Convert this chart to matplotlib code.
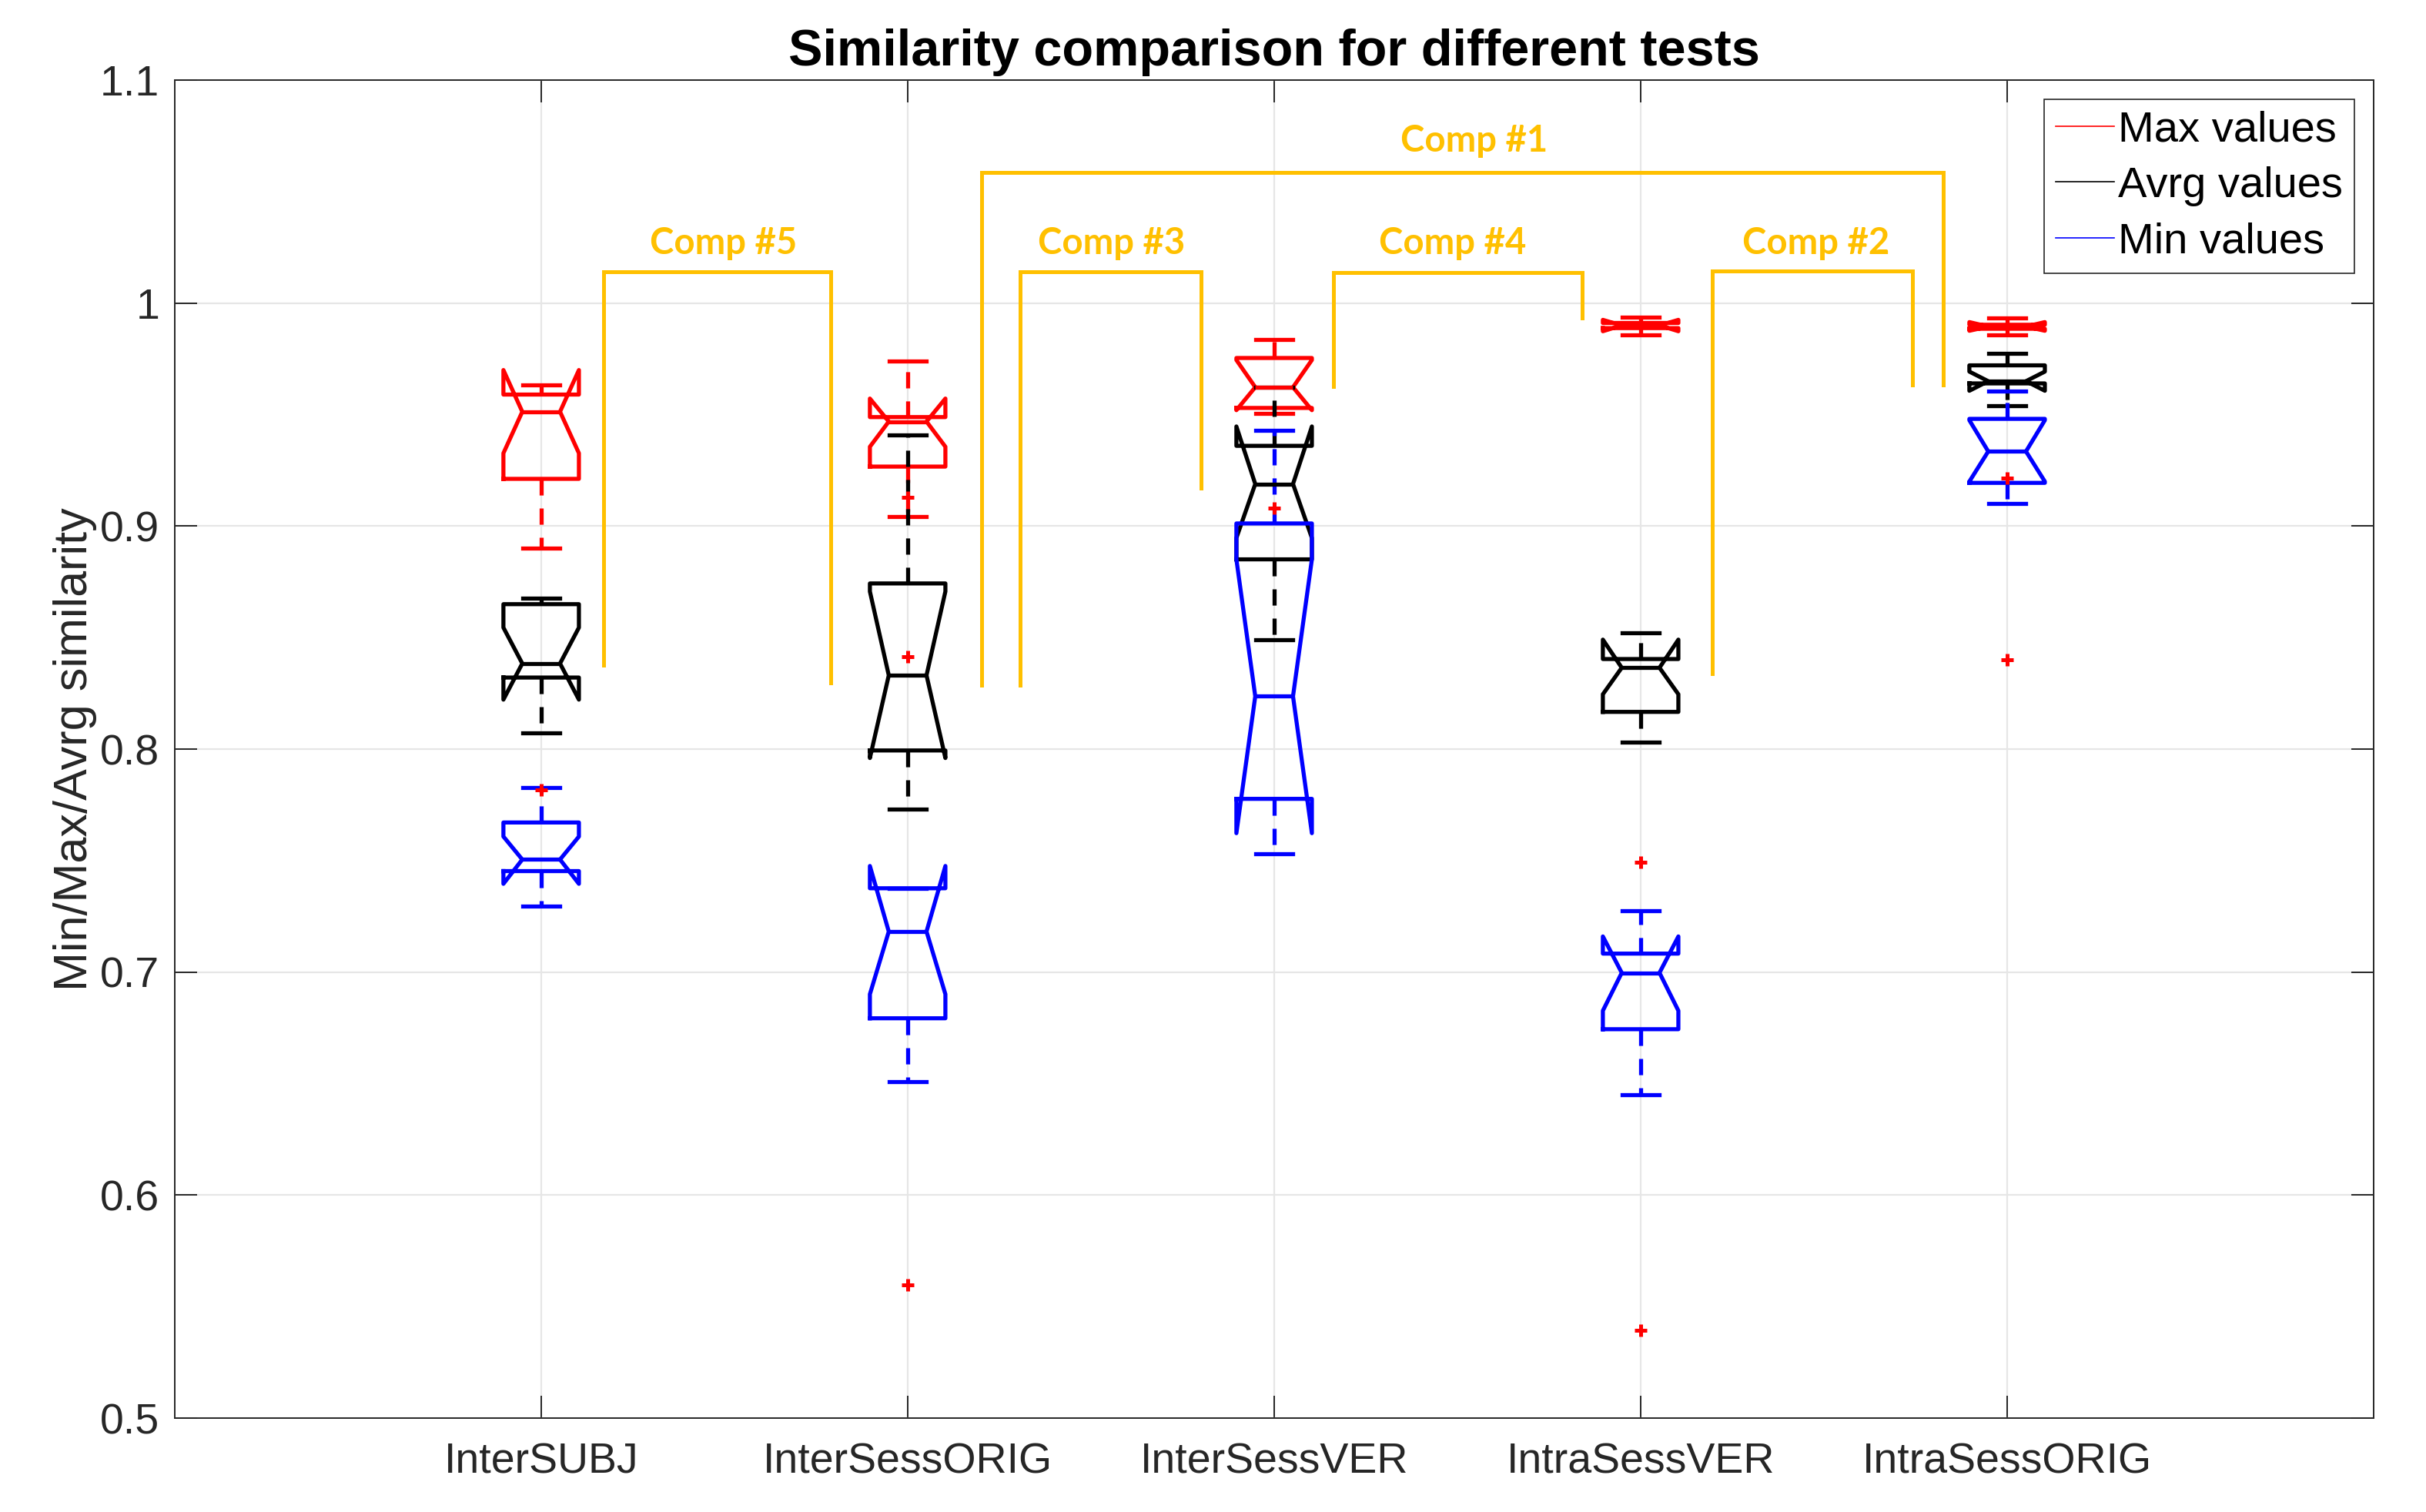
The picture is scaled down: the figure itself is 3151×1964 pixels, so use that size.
import matplotlib
matplotlib.use('Agg')
import matplotlib.pyplot as plt
from matplotlib.lines import Line2D

plt.rcParams['font.family'] = ['Liberation Sans', 'DejaVu Sans']

tests = ['InterSUBJ', 'InterSessORIG', 'InterSessVER', 'IntraSessVER', 'IntraSessORIG']
positions = [1, 2, 3, 4, 5]

# box statistics
max_vals = dict(
    whislo=[0.8903, 0.9042, 0.9505, 0.9857, 0.9859],
    q1=[0.9212, 0.9267, 0.9530, 0.9888, 0.9885],
    cilo=[0.9327, 0.9356, 0.9520, 0.9874, 0.9876],
    med=[0.9513, 0.9469, 0.9623, 0.9900, 0.9895],
    cihi=[0.9700, 0.9572, 0.9745, 0.9925, 0.9915],
    q3=[0.9590, 0.9489, 0.9754, 0.9911, 0.9903],
    whishi=[0.9634, 0.9741, 0.9837, 0.9938, 0.9934],
)
max_fliers = [[0.7816], [], [0.9082], [0.7491, 0.5395], [0.9215, 0.8400]]

avrg_vals = dict(
    whislo=[0.8073, 0.7731, 0.8491, 0.8032, 0.9539],
    q1=[0.8321, 0.7994, 0.8851, 0.8167, 0.9640],
    cilo=[0.8222, 0.7960, 0.8947, 0.8246, 0.9607],
    med=[0.8384, 0.8331, 0.9189, 0.8365, 0.9650],
    cihi=[0.8545, 0.8707, 0.9447, 0.8491, 0.9693],
    q3=[0.8650, 0.8743, 0.9360, 0.8404, 0.9721],
    whishi=[0.8677, 0.9408, 0.9623, 0.8521, 0.9775],
)
avrg_fliers = [[], [], [], [], []]

min_vals = dict(
    whislo=[0.7295, 0.6509, 0.7532, 0.6451, 0.9102],
    q1=[0.7453, 0.6793, 0.7777, 0.6744, 0.9194],
    cilo=[0.7396, 0.6901, 0.7623, 0.6827, 0.9200],
    med=[0.7505, 0.7182, 0.8237, 0.6997, 0.9335],
    cihi=[0.7608, 0.7476, 0.8851, 0.7160, 0.9475],
    q3=[0.7671, 0.7376, 0.9012, 0.7083, 0.9481],
    whishi=[0.7826, 0.7376, 0.9430, 0.7275, 0.9607],
)
min_fliers = [[], [0.9130, 0.8414, 0.5596], [], [], []]

# comparison brackets: left x, right x, top y, left leg bottom, right leg bottom
comp_names = ['Comp #5', 'Comp #3', 'Comp #4', 'Comp #2', 'Comp #1']
comp_left = [1.170, 2.307, 3.162, 4.195, 2.201]
comp_right = [1.790, 2.800, 3.840, 4.741, 4.826]
comp_top = [1.014, 1.014, 1.0138, 1.0145, 1.0585]
comp_left_bot = [0.8376, 0.8286, 0.9628, 0.8340, 0.8286]
comp_right_bot = [0.8297, 0.9169, 0.9934, 0.9634, 0.9634]
comp_label_x = [1.498, 2.557, 3.487, 4.479, 3.546]
comp_label_y = [1.022, 1.022, 1.022, 1.022, 1.068]


def make_stats(vals, fliers):
    stats = []
    for i in range(len(tests)):
        s = {k: vals[k][i] for k in vals}
        s['fliers'] = fliers[i]
        stats.append(s)
    return stats


fig = plt.figure(figsize=(15.755, 9.82), dpi=200)
ax = fig.add_axes([0.0720, 0.0621, 0.9064, 0.8849])

for vals, fl, col in [(max_vals, max_fliers, 'red'),
                      (avrg_vals, avrg_fliers, 'black'),
                      (min_vals, min_fliers, 'blue')]:
    line = dict(color=col, lw=1.9)
    ax.bxp(make_stats(vals, fl), positions=positions, widths=0.206,
           capwidths=0.1, shownotches=True,
           boxprops=line, medianprops=line, capprops=line,
           whiskerprops=dict(color=col, lw=1.9, linestyle=(0, (4, 3.2))),
           flierprops=dict(marker='+', markeredgecolor='red', markersize=6,
                           markeredgewidth=1.8, linestyle='none', zorder=5),
           manage_ticks=False)

for i in range(len(comp_names)):
    ax.plot([comp_left[i], comp_left[i], comp_right[i], comp_right[i]],
            [comp_left_bot[i], comp_top[i], comp_top[i], comp_right_bot[i]],
            color='#FFC000', lw=1.8, solid_joinstyle='miter')
    ax.text(comp_label_x[i], comp_label_y[i], comp_names[i], color='#FFC000',
            fontsize=17, fontweight='bold', family=['Lato', 'DejaVu Sans'],
            ha='center', va='baseline')

ax.set_xlim(0, 6)
ax.set_ylim(0.5, 1.1)
ax.set_xticks(positions)
ax.set_xticklabels(tests)
ax.set_yticks([0.5, 0.6, 0.7, 0.8, 0.9, 1.0, 1.1])
ax.set_yticklabels(['0.5', '0.6', '0.7', '0.8', '0.9', '1', '1.1'])
ax.grid(True, color='#e6e6e6', lw=0.8)
ax.set_axisbelow(True)
for sp in ax.spines.values():
    sp.set_color('#262626')
    sp.set_linewidth(0.7)
ax.tick_params(direction='in', length=10.4, width=0.7, top=True, right=True,
               colors='#262626', labelsize=20)
ax.tick_params(axis='x', pad=11.5)
ax.tick_params(axis='y', pad=7)

ax.set_title('Similarity comparison for different tests', fontsize=24,
             fontweight='bold', pad=7)
ax.set_ylabel('Min/Max/Avrg similarity', fontsize=22, color='#262626')
ax.yaxis.set_label_coords(-0.0354, 0.5)

handles = [Line2D([], [], color='red', lw=0.6),
           Line2D([], [], color='black', lw=0.6),
           Line2D([], [], color='blue', lw=0.6)]
leg = ax.legend(handles, ['Max values', 'Avrg values', 'Min values'],
                loc='upper right', fontsize=20.2, fancybox=False,
                framealpha=1, edgecolor='#262626', borderpad=0.26,
                labelspacing=0.36, handlelength=1.35, handletextpad=0.1,
                borderaxespad=0.45)
leg.get_frame().set_linewidth(0.6)

fig.savefig('out.png', dpi=200)
